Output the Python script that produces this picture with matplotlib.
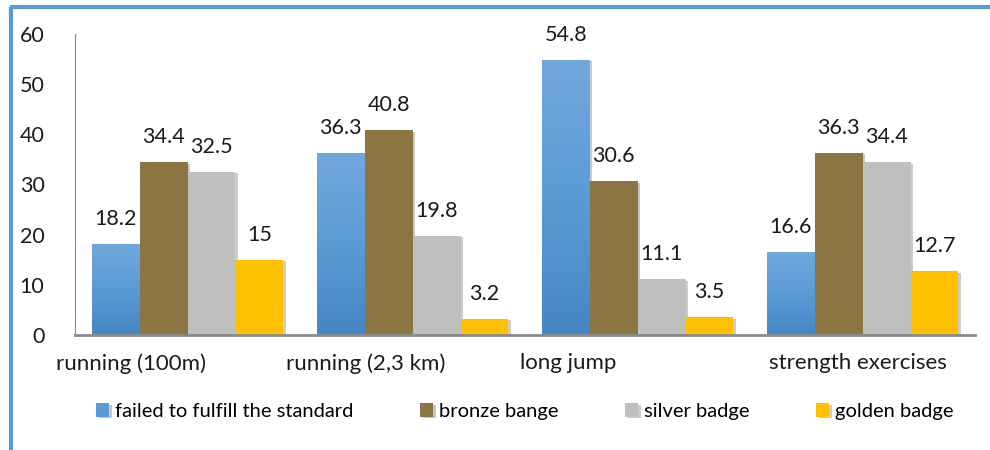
import numpy as np
import matplotlib.pyplot as plt
from matplotlib.lines import Line2D
from matplotlib.colors import LinearSegmentedColormap
import matplotlib.patheffects as pe

plt.rcParams['font.family'] = ['Lato', 'DejaVu Sans']

# data
categories = ['running (100m)', 'running (2,3 km)', 'long jump', 'strength exercises']
series_names = ['failed to fulfill the standard', 'bronze bange', 'silver badge', 'golden badge']
failed = [18.2, 36.3, 54.8, 16.6]
bronze = [34.4, 40.8, 30.6, 36.3]
silver = [32.5, 19.8, 11.1, 34.4]
golden = [15, 3.2, 3.5, 12.7]
label_shift = [-0.25, -0.21, -0.31, -0.02]  # category labels sit off-centre in the original

colors = ['#5B9BD5', '#8B7542', '#BFBFBF', '#FFC000']
blue_grad = LinearSegmentedColormap.from_list('bg', ['#4686C6', '#5B9BD5', '#72A9DD'])

fig = plt.figure(figsize=(9.9, 4.5), dpi=100)
ax = fig.add_axes([0.0758, 0.2556, 0.9092, 0.6688])

x = np.arange(len(categories))
width = 0.213
shadow = [pe.SimplePatchShadow(offset=(2, -1), alpha=0.25), pe.Normal()]

for i, (vals, name) in enumerate(zip([failed, bronze, silver, golden], series_names)):
    pos = x + (i - 1.5) * width
    bars = ax.bar(pos, vals, width, color=colors[i], label=name, zorder=2)
    for b in bars:
        b.set_path_effects(shadow)
        if i == 0:
            # soft vertical gradient on the blue bars
            grad = np.linspace(0, 1, 256).reshape(-1, 1)
            im = ax.imshow(grad, extent=[b.get_x(), b.get_x() + b.get_width(), 0, b.get_height()],
                           origin='lower', aspect='auto', cmap=blue_grad, zorder=2.1)
            im.set_clip_path(b)
    for px, v in zip(pos, vals):
        ax.text(px, v + 5.0, f'{v:g}', ha='center', va='center', fontsize=15.5, color='#1a1a1a')

ax.set_xlim(-0.5, len(categories) - 0.5)
ax.set_ylim(0, 60)
ax.set_yticks(range(0, 61, 10))
ax.tick_params(axis='y', length=0, labelsize=15.5, pad=22, colors='#1a1a1a')
ax.set_xticks(x + np.array(label_shift))
ax.set_xticklabels(categories, fontsize=16, color='#1a1a1a')
ax.tick_params(axis='x', length=0, pad=13)

for s in ['top', 'right']:
    ax.spines[s].set_visible(False)
ax.spines['left'].set_color('#888888')
ax.spines['left'].set_linewidth(0.8)
ax.spines['bottom'].set_color('#8a8a8a')
ax.spines['bottom'].set_linewidth(2)
ax.spines['bottom'].set_zorder(3)

ax.legend(loc='center', bbox_to_anchor=(0.5, -0.255), ncol=4, frameon=False,
          fontsize=14.5, handlelength=0.65, handleheight=0.65, handletextpad=0.3,
          columnspacing=3.3)

# blue frame of the original chart box
fig.add_artist(Line2D([11 / 990, 11 / 990], [0, 1 - 7 / 450], color='#5B9BD5', lw=3,
                      transform=fig.transFigure, solid_capstyle='butt'))
fig.add_artist(Line2D([9.5 / 990, 1], [1 - 7 / 450, 1 - 7 / 450], color='#5B9BD5', lw=3,
                      transform=fig.transFigure, solid_capstyle='butt'))

fig.savefig('out.png', dpi=100)
